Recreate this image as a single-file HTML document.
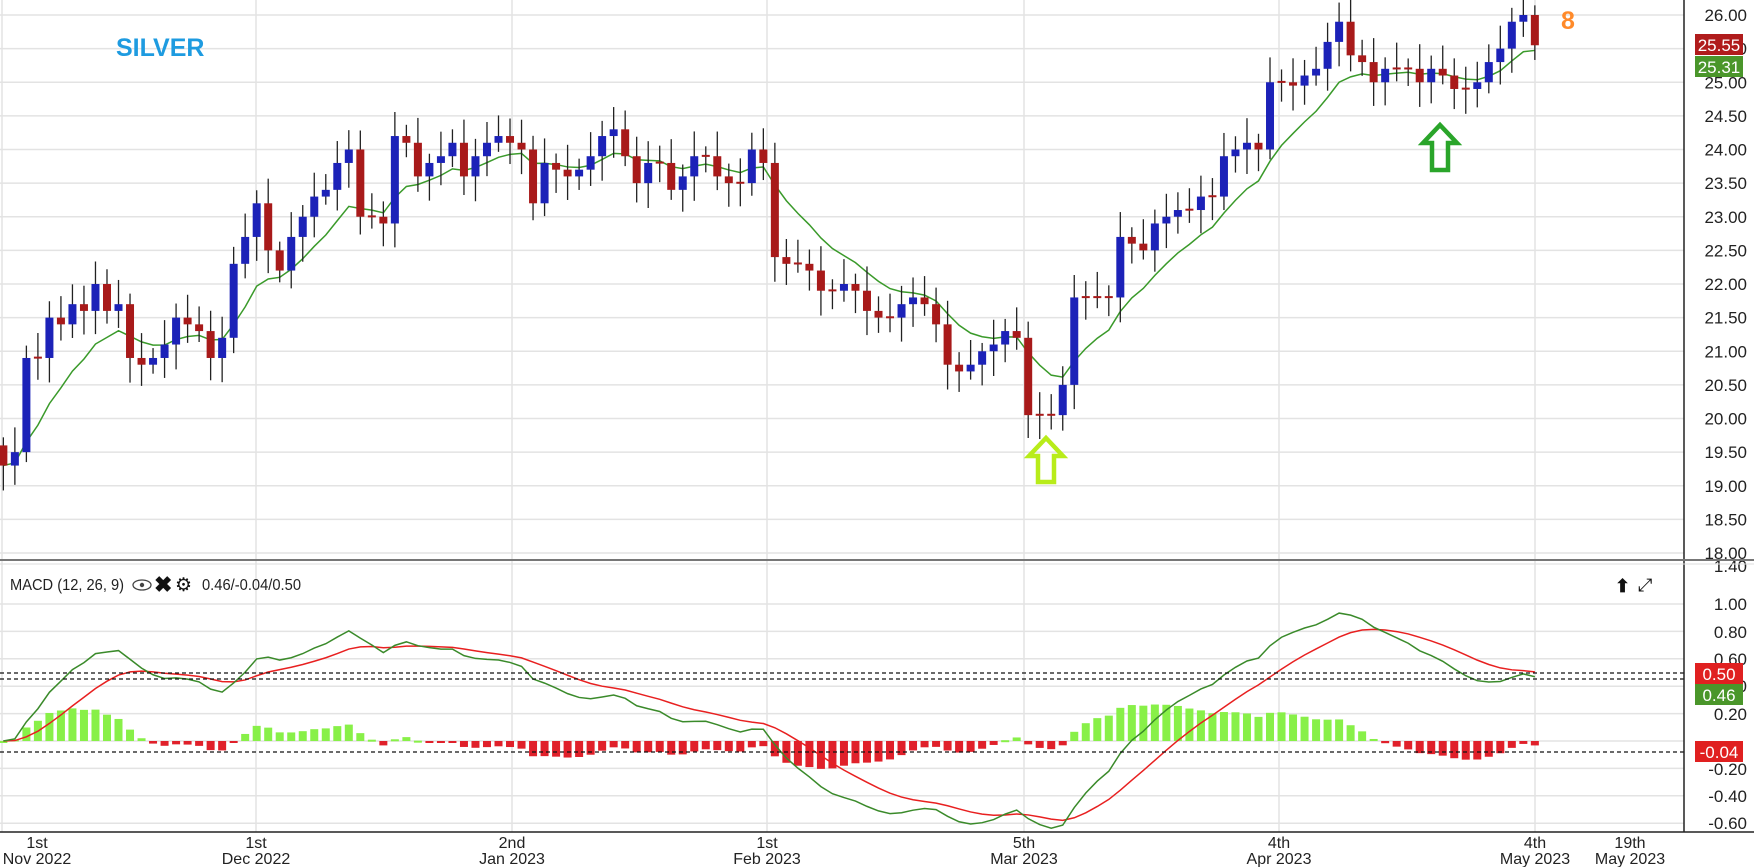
<!DOCTYPE html>
<html><head><meta charset="utf-8">
<style>
body{margin:0;background:#fff;width:1754px;height:867px;overflow:hidden;font-family:"Liberation Sans",sans-serif}
svg{display:block}
</style></head><body>
<svg id="s" width="1754" height="867" xmlns="http://www.w3.org/2000/svg" font-family="Liberation Sans, sans-serif"></svg>
<script>
const C=[19.3,19.5,20.9,20.9,21.5,21.4,21.7,21.6,22.0,21.6,21.7,20.9,20.8,20.9,21.1,21.5,21.4,21.3,20.9,21.2,22.3,22.7,23.2,22.5,22.2,22.7,23.0,23.3,23.4,23.8,24.0,23.0,23.0,22.9,24.2,24.1,23.6,23.8,23.9,24.1,23.6,23.9,24.1,24.2,24.1,24.0,23.2,23.8,23.7,23.6,23.7,23.9,24.2,24.3,23.9,23.5,23.8,23.8,23.4,23.6,23.9,23.9,23.6,23.5,23.5,24.0,23.8,22.4,22.3,22.3,22.2,21.9,21.9,22.0,21.9,21.6,21.5,21.5,21.7,21.8,21.7,21.4,20.8,20.7,20.8,21.0,21.1,21.3,21.2,20.05,20.05,20.05,20.5,21.8,21.8,21.8,21.8,22.7,22.6,22.5,22.9,23.0,23.1,23.1,23.3,23.3,23.9,24.0,24.1,24.0,25.0,25.0,24.95,25.1,25.2,25.6,25.9,25.4,25.3,25.0,25.2,25.2,25.2,25.0,25.2,25.1,24.9,24.9,25.0,25.3,25.5,25.9,26.0,25.55];
const n=C.length,s=document.getElementById('s');let h='';
const X=i=>(3+i*(1369/(n-1)))*1.1187;
const Y=p=>15+(26-p)*67.25;
const M=v=>741-v*137;
for(let p=18;p<=26.001;p+=0.5){h+=`<line x1="0" x2="1684" y1="${Y(p)}" y2="${Y(p)}" stroke="#e3e3e3" stroke-width="1.5"/>`;h+=`<text x="1747" y="${Y(p)+6}" font-size="17" text-anchor="end" fill="#222">${p.toFixed(2)}</text>`;}
for(let v=-0.6;v<=1.001;v+=0.2){h+=`<line x1="0" x2="1684" y1="${M(v)}" y2="${M(v)}" stroke="#e3e3e3" stroke-width="1.5"/>`;}
[[1.00,604],[0.80,632],[0.60,659],[0.40,686],[0.20,714],[-0.20,769],[-0.40,796],[-0.60,823]].forEach(a=>h+=`<text x="1747" y="${a[1]+6}" font-size="17" text-anchor="end" fill="#222">${a[0].toFixed(2)}</text>`);
h+=`<text x="1747" y="572" font-size="17" text-anchor="end" fill="#222">1.40</text>`;
[2,256,512,767,1024,1279,1535].forEach(x=>h+=`<line x1="${x}" x2="${x}" y1="0" y2="832" stroke="#e3e3e3" stroke-width="1.5"/>`);
let e=C[0],ma=[];C.forEach(c=>{e=e+(c-e)*2/10;ma.push(e)});
h+=`<polyline fill="none" stroke="#3a9a2a" stroke-width="1.5" points="${ma.map((v,i)=>X(i)+','+Y(v)).join(' ')}"/>`;
for(let i=0;i<n;i++){let o=i?C[i-1]:19.6,c=C[i];if(Math.abs(o-c)<0.03){o=c+0.02}
let hi=Math.max(o,c)+0.12+0.25*Math.abs(Math.sin(i*1.7)),lo=Math.min(o,c)-0.12-0.25*Math.abs(Math.cos(i*2.3));
let col=c>=o?'#1c22b8':'#a81a1a',x=X(i);
h+=`<line x1="${x}" x2="${x}" y1="${Y(hi)}" y2="${Y(lo)}" stroke="#222" stroke-width="1.3"/>`;
let t=Y(Math.max(o,c)),b=Y(Math.min(o,c));h+=`<rect x="${x-4}" y="${t}" width="8" height="${Math.max(2,b-t)}" fill="${col}"/>`;}
let e12=C[0],e26=C[0],sg=0,md=[],sl=[];C.forEach(c=>{e12+=(c-e12)*2/13;e26+=(c-e26)*2/27;let m=e12-e26;sg+=(m-sg)*0.2;md.push(m);sl.push(sg)});
for(let i=0;i<n;i++){let d=(md[i]-sl[i])*0.9,x=X(i);let y1=M(Math.max(d,0)),y2=M(Math.min(d,0));h+=`<rect x="${x-4}" y="${y1}" width="8" height="${Math.max(2,y2-y1)}" fill="${d>=0?'#88f048':'#e0202a'}"/>`;}
h+=`<polyline fill="none" stroke="#e82020" stroke-width="1.5" points="${sl.map((v,i)=>X(i)+','+M(v)).join(' ')}"/>`;
h+=`<polyline fill="none" stroke="#3a8a2a" stroke-width="1.5" points="${md.map((v,i)=>X(i)+','+M(v)).join(' ')}"/>`;
[673,679,752].forEach(y=>h+=`<line x1="0" x2="1684" y1="${y}" y2="${y}" stroke="#111" stroke-width="1.3" stroke-dasharray="4,3"/>`);
h+=`<line x1="1684" x2="1684" y1="0" y2="832" stroke="#222" stroke-width="1.5"/>`;
h+=`<line x1="0" x2="1754" y1="560" y2="560" stroke="#777" stroke-width="2"/><line x1="0" x2="1754" y1="564" y2="564" stroke="#ddd" stroke-width="1"/>`;
h+=`<line x1="0" x2="1754" y1="832" y2="832" stroke="#222" stroke-width="1.5"/>`;
h+=`<rect x="1695" y="34" width="48" height="21" fill="#b01c1c"/><text x="1719" y="51" font-size="17" fill="#fff" text-anchor="middle">25.55</text>`;
h+=`<rect x="1695" y="56" width="48" height="21" fill="#4a962a"/><text x="1719" y="73" font-size="17" fill="#fff" text-anchor="middle">25.31</text>`;
h+=`<rect x="1695" y="663" width="48" height="21" fill="#e02020"/><text x="1719" y="680" font-size="17" fill="#fff" text-anchor="middle">0.50</text>`;
h+=`<rect x="1695" y="684" width="48" height="21" fill="#4a962a"/><text x="1719" y="701" font-size="17" fill="#fff" text-anchor="middle">0.46</text>`;
h+=`<rect x="1695" y="741" width="48" height="21" fill="#e02020"/><text x="1719" y="758" font-size="17" fill="#fff" text-anchor="middle">-0.04</text>`;
h+=`<text x="116" y="56" font-size="25" font-weight="bold" fill="#1e9be0">SILVER</text>`;
h+=`<text x="1561" y="29" font-size="25" font-weight="bold" fill="#ff8a2a">8</text>`;
h+=`<text x="10" y="590" font-size="16" fill="#222" textLength="114" lengthAdjust="spacingAndGlyphs">MACD (12, 26, 9)</text>`;
h+=`<ellipse cx="142" cy="585" rx="9" ry="5" fill="none" stroke="#444" stroke-width="1.3"/><circle cx="142" cy="585" r="2.2" fill="#444"/>`;
h+=`<text x="154" y="592" font-size="22" font-weight="bold" fill="#111">✖</text><text x="175" y="591" font-size="19" fill="#111">⚙</text>`;
h+=`<text x="202" y="590" font-size="16" fill="#222" textLength="99" lengthAdjust="spacingAndGlyphs">0.46/-0.04/0.50</text>`;
h+=`<text x="1615" y="592" font-size="18" font-weight="bold" fill="#111">⬆</text><text x="1638" y="591" font-size="18" fill="#111">⤢</text>`;
[[37,'1st','Nov 2022'],[256,'1st','Dec 2022'],[512,'2nd','Jan 2023'],[767,'1st','Feb 2023'],[1024,'5th','Mar 2023'],[1279,'4th','Apr 2023'],[1535,'4th','May 2023'],[1630,'19th','May 2023']].forEach(a=>{h+=`<text x="${a[0]}" y="848" font-size="16" text-anchor="middle" fill="#222">${a[1]}</text><text x="${a[0]}" y="864" font-size="16" text-anchor="middle" fill="#222">${a[2]}</text>`});
function arr(cx,top,bot,col){const w=17,hw=8,hh=18;return `<polygon points="${cx},${top} ${cx+w},${top+hh} ${cx+hw},${top+hh} ${cx+hw},${bot} ${cx-hw},${bot} ${cx-hw},${top+hh} ${cx-w},${top+hh}" fill="none" stroke="${col}" stroke-width="4.5" stroke-linejoin="miter"/>`}
h+=arr(1046,438,482,'#b8ec1a');h+=arr(1440,125,170,'#2aa52a');
s.innerHTML=h;
</script>
</body></html>
